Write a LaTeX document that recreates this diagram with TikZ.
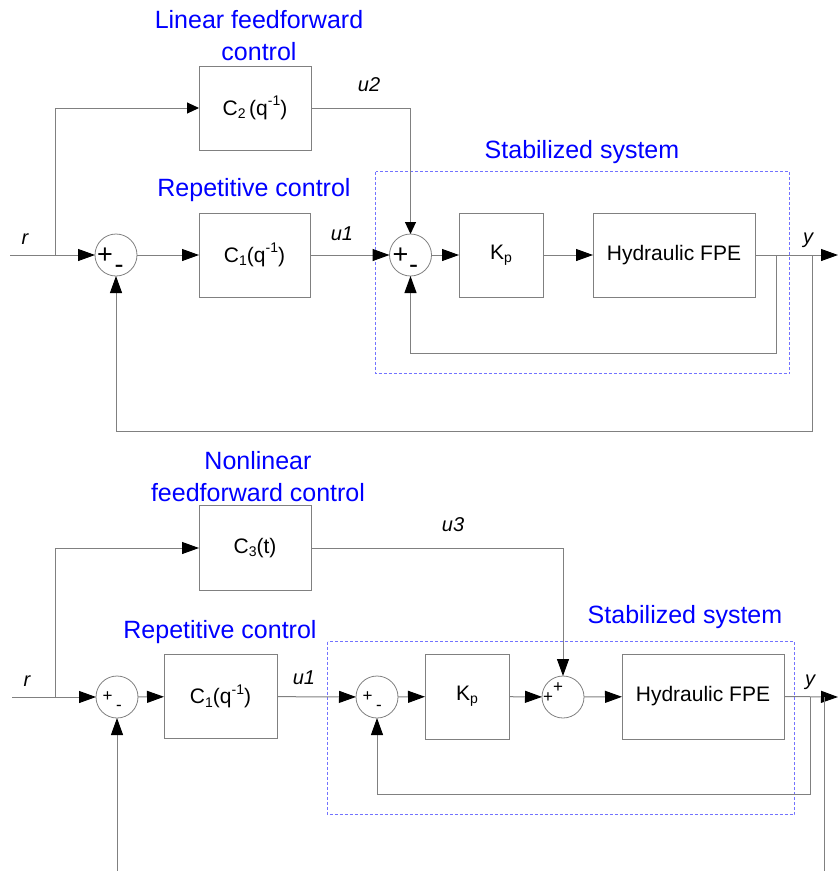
\documentclass[tikz,border=0pt]{standalone}
\usepackage{fontspec}
\setmainfont{Liberation Sans}
\usetikzlibrary{arrows.meta,calc}
\newcommand\mysub[1]{\raisebox{-0.3ex}{\fontsize{14}{14}\selectfont #1}}
\newcommand\mysup[1]{\raisebox{0.85ex}{\fontsize{14}{14}\selectfont #1}}
\definecolor{lgray}{RGB}{128,128,128}
\definecolor{dblue}{RGB}{115,115,255}
\begin{document}
\begin{tikzpicture}[x=1pt,y=-1pt,
  blk/.style={draw=lgray,line width=1pt,inner sep=0pt,outer sep=0pt,font=\fontsize{21}{24}\selectfont},
  sumc/.style={draw=lgray,line width=0.8pt,circle,minimum size=42pt,inner sep=0pt,outer sep=0pt},
  conn/.style={draw=lgray,line width=1pt},
  tipb/.style={-{Triangle[length=17pt,width=12pt,fill=black,color=black]}},
  tips/.style={-{Triangle[length=12pt,width=11pt,fill=black,color=black]}},
  ttl/.style={text=blue,align=center,font=\fontsize{25}{32}\selectfont,inner sep=0pt},
  lbl/.style={font=\fontsize{20}{24}\selectfont\itshape,inner sep=0pt},
  sgbig/.style={font=\fontsize{27}{27}\selectfont,inner sep=0pt},
  sgsm/.style={font=\fontsize{17}{17}\selectfont,inner sep=0pt},
  grp/.style={draw=dblue,line width=1pt,dash pattern=on 3pt off 2pt}
]
\useasboundingbox (0,0) rectangle (838,871);

% ================= TOP DIAGRAM =================
\node[ttl] (tlin) at (259,36) {Linear feedforward\\control};
\node[ttl] (trep) at (254,190) {Repetitive control};
\node[ttl] (tstab) at (582,152) {Stabilized system};
\draw[grp] (375.5,171.5) rectangle (789.5,373.5);

\node[blk,minimum width=112pt,minimum height=84pt] (tc2) at (255,108) {C\mysub{2}\,(q\mysup{-1})};
\node[blk,minimum width=111pt,minimum height=84pt] (tc1) at (254.5,255) {C\mysub{1}(q\mysup{-1})};
\node[blk,minimum width=84pt,minimum height=84pt] (tkp) at (501,255) {K\mysub{p}};
\node[blk,minimum width=162pt,minimum height=84pt] (tfpe) at (674,255) {Hydraulic FPE};
\node[sumc] (ts1) at (116,255) {};
\node[sumc] (ts2) at (410.5,255) {};
\node[sgbig] (ts1p) at ([shift={(-11,1)}]ts1.center) {+};
\node[sgbig] (ts1m) at ([shift={(3,14)}]ts1.center) {-};
\node[sgbig] (ts2p) at ([shift={(-10,1)}]ts2.center) {+};
\node[sgbig] (ts2m) at ([shift={(3,14)}]ts2.center) {-};

\node[lbl] (tr) at (25,239) {r};
\node[lbl] (tu2) at (369,85) {u2};
\node[lbl] (tu1) at (342,234) {u1};
\node[lbl] (ty) at (808,240) {y};

\coordinate (tin) at (10,255);
\coordinate (tbr) at (55,255);
\coordinate (tout) at (838,255);
\coordinate (tib) at (776,255);
\coordinate (tic) at (776,353);
\coordinate (tob) at (812,255);
\coordinate (toc) at (812,431);

\draw[conn,tipb] (tin) -- (ts1);
\draw[conn,tips] (tbr) |- (tc2.west);
\draw[conn,tips] (tc2.east) -| (ts2.north);
\draw[conn,tipb] (ts1) -- (tc1);
\draw[conn,tipb] (tc1) -- (ts2);
\draw[conn,tipb] (ts2) -- (tkp);
\draw[conn,tipb] (tkp) -- (tfpe);
\draw[conn,tipb] (tfpe.east) -- (tout);
\draw[conn,tipb] (tib) -- (tic) -| (ts2.south);
\draw[conn,tipb] (tob) -- (toc) -| (ts1.south);

% ================= BOTTOM DIAGRAM =================
\node[ttl] (bnl) at (258,477) {Nonlinear\\feedforward control};
\node[ttl] (brep) at (220,632) {Repetitive control};
\node[ttl] (bstab) at (685,617) {Stabilized system};
\draw[grp] (327.5,641.5) rectangle (794.5,814.5);

\node[blk,minimum width=112pt,minimum height=85pt] (bc3) at (255,548) {C\mysub{3}(t)};
\node[blk,minimum width=113pt,minimum height=84pt] (bc1) at (220.5,696.5) {C\mysub{1}(q\mysup{-1})};
\node[blk,minimum width=84pt,minimum height=85pt] (bkp) at (467,696.5) {K\mysub{p}};
\node[blk,minimum width=162pt,minimum height=85pt] (bfpe) at (703,696.5) {Hydraulic FPE};
\node[sumc] (bs1) at (117,697) {};
\node[sumc] (bs2) at (377,697) {};
\node[sumc] (bs3) at (563,697) {};
\node[sgsm] (bs1p) at ([shift={(-9.5,0)}]bs1.center) {+};
\node[sgsm] (bs1m) at ([shift={(2,11)}]bs1.center) {-};
\node[sgsm] (bs2p) at ([shift={(-9.5,0)}]bs2.center) {+};
\node[sgsm] (bs2m) at ([shift={(2,11)}]bs2.center) {-};
\node[sgsm] (bs3p) at ([shift={(-15,1)}]bs3.center) {+};
\node[sgsm] (bs3q) at ([shift={(-5,-9)}]bs3.center) {+};

\node[lbl] (br) at (27,681) {r};
\node[lbl] (bu3) at (453,525) {u3};
\node[lbl] (bu1) at (304,678) {u1};
\node[lbl] (by) at (810,682) {y};

\coordinate (bin) at (12,697);
\coordinate (bbr) at (55,697);
\coordinate (bout) at (838,697);
\coordinate (bib) at (810,697);
\coordinate (bic) at (810,794);
\coordinate (bob) at (824,697);
\coordinate (boc) at (824,871);
\coordinate (bfb) at (117,871);

\draw[conn,tipb] (bin) -- (bs1);
\draw[conn,tipb] (bbr) |- (bc3.west);
\draw[conn,tipb] (bc3.east) -| (bs3.north);
\draw[conn,tipb] (bs1) -- (bc1);
\draw[conn,tipb] (bc1) -- (bs2);
\draw[conn,tipb] (bs2) -- (bkp);
\draw[conn,tipb] (bkp) -- (bs3);
\draw[conn,tipb] (bs3) -- (bfpe);
\draw[conn,tipb] (bfpe.east) -- (bout);
\draw[conn,tipb] (bib) -- (bic) -| (bs2.south);
\draw[conn] (bob) -- (boc);
\draw[conn,tipb] (bfb) -- (bs1.south);
\end{tikzpicture}
\end{document}
